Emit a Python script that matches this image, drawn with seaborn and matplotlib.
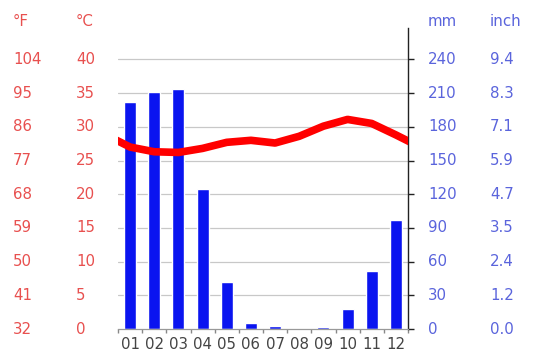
import matplotlib
matplotlib.use("Agg")
import matplotlib.pyplot as plt
import matplotlib.transforms as mtransforms
import seaborn as sns
import pandas as pd
import numpy as np

months = ["01", "02", "03", "04", "05", "06", "07", "08", "09", "10", "11", "12"]
precip_mm = [202, 211, 214, 125, 42, 5, 3, 0, 2, 18, 52, 97]
temp_c = [27.0, 26.3, 26.2, 26.8, 27.7, 28.0, 27.6, 28.6, 30.1, 31.1, 30.5, 28.8]

c_ticks = [0, 5, 10, 15, 20, 25, 30, 35, 40]
f_labels = ["32", "41", "50", "59", "68", "77", "86", "95", "104"]
mm_ticks = [0, 30, 60, 90, 120, 150, 180, 210, 240]
inch_labels = ["0.0", "1.2", "2.4", "3.5", "4.7", "5.9", "7.1", "8.3", "9.4"]

sns.set_style("white")
plt.rcParams["font.family"] = ["DejaVu Sans"]

RED = "#e8504f"
BLUE = "#5a64dc"
FS = 10.8
FAM = "DejaVu Sans"

fig = plt.figure(figsize=(5.37, 3.56), dpi=100)
fig.patch.set_facecolor("white")
ax = fig.add_axes([118 / 537, 1 - 329 / 356, 290 / 537, (329 - 28) / 356])
ax.set_facecolor("white")

ymax_mm = 268.0
df = pd.DataFrame({"month": months, "precip": precip_mm})
sns.barplot(data=df, x="month", y="precip", color="#0a14f0", saturation=1,
            width=0.5, ax=ax, zorder=2)
ax.set_xlim(-0.5, 11.5)
ax.set_ylim(0, ymax_mm)
ax.set_xlabel("")
ax.set_ylabel("")

for t in mm_ticks[1:]:
    ax.axhline(t, color="#c8c8c8", lw=0.9, zorder=1)

for s in ["left", "top"]:
    ax.spines[s].set_visible(False)
ax.spines["bottom"].set_color("#999999")
ax.spines["bottom"].set_linewidth(0.9)
ax.spines["right"].set_color("#222222")
ax.spines["right"].set_linewidth(1.0)

ax.set_xticks(np.arange(12))
ax.set_xticklabels(months, fontsize=FS, color="#444444", family=FAM)
ax.tick_params(axis="x", which="major", length=0, pad=6)
ax.set_xticks(np.arange(-0.5, 12, 1.0), minor=True)
ax.tick_params(axis="x", which="minor", direction="out", length=3, width=1, color="#888888", bottom=True)

ax2 = ax.twinx()
ax2.set_ylim(0, ymax_mm / 6.0)
for s in ax2.spines.values():
    s.set_visible(False)
xs = [-1] + list(range(12)) + [12]
ys = [temp_c[-1]] + temp_c + [temp_c[0]]
tdf = pd.DataFrame({"x": xs, "t": ys})
sns.lineplot(data=tdf, x="x", y="t", ax=ax2, color="#ff0000", lw=5.5,
             solid_capstyle="round", zorder=3)
ax2.set_xlim(-0.5, 11.5)
ax2.set_ylim(0, ymax_mm / 6.0)
ax2.set_xlabel("")
ax2.set_ylabel("")
ax2.set_yticks([])
ax2.tick_params(axis="y", left=False, right=False, labelleft=False, labelright=False)

# right ticks on main axis
ax.set_yticks(mm_ticks)
ax.tick_params(axis="y", which="major", direction="out", length=4, width=1,
               color="#222222", right=True, left=False, labelleft=False, labelright=False)

trL = mtransforms.blended_transform_factory(fig.transFigure, ax2.transData)
trR = mtransforms.blended_transform_factory(fig.transFigure, ax.transData)
for c, f in zip(c_ticks, f_labels):
    ax2.text(13 / 537, c, f, transform=trL, color=RED, fontsize=FS, family=FAM, ha="left", va="center")
    ax2.text(76 / 537, c, str(c), transform=trL, color=RED, fontsize=FS, family=FAM, ha="left", va="center")
for m, i in zip(mm_ticks, inch_labels):
    ax.text(428 / 537, m, str(m), transform=trR, color=BLUE, fontsize=FS, family=FAM, ha="left", va="center")
    ax.text(490 / 537, m, i, transform=trR, color=BLUE, fontsize=FS, family=FAM, ha="left", va="center")

hy = 1 - 22 / 356
fig.text(13 / 537, hy, "°F", color=RED, fontsize=FS, family=FAM, ha="left", va="center")
fig.text(76 / 537, hy, "°C", color=RED, fontsize=FS, family=FAM, ha="left", va="center")
fig.text(428 / 537, hy, "mm", color=BLUE, fontsize=FS, family=FAM, ha="left", va="center")
fig.text(490 / 537, hy, "inch", color=BLUE, fontsize=FS, family=FAM, ha="left", va="center")

fig.savefig("out.png", dpi=100, facecolor="white")
